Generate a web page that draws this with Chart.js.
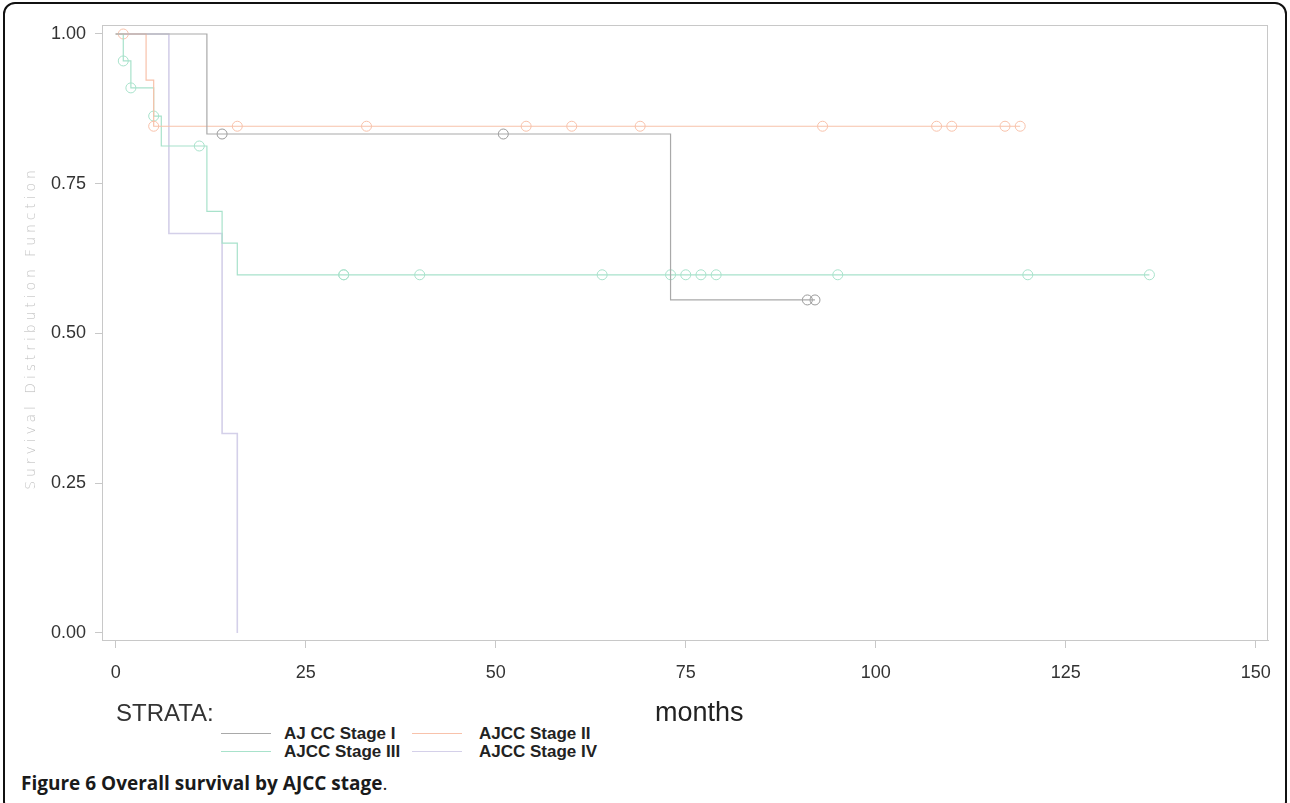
<!DOCTYPE html>
<html>
<head>
<meta charset="utf-8">
<script src="https://cdn.jsdelivr.net/npm/chart.js@4.4.1/dist/chart.umd.min.js"></script>
<style>
body{margin:0;background:#fff;}
#wrap{position:relative;width:1290px;height:803px;overflow:hidden;background:#fff;font-family:"Liberation Sans",Arial,sans-serif;}
#border{position:absolute;left:3px;top:2px;width:1284px;height:812px;border:2px solid #111;border-radius:12px;box-sizing:border-box;}
#myChart{position:absolute;left:0;top:0;}
#ytitle{position:absolute;left:-170px;top:318px;width:400px;height:20px;line-height:20px;text-align:center;transform:rotate(-90deg);
  font-family:"DejaVu Sans",sans-serif;font-weight:200;font-size:14px;letter-spacing:3.9px;color:#c4c4c4;}
#xtitle{position:absolute;left:655px;top:699px;font-size:27px;line-height:27px;color:#222;}
#strata{position:absolute;left:116px;top:701px;font-size:24px;line-height:24px;color:#333;}
.lg-line{position:absolute;height:0;width:50px;border-top:1px solid #aaa;}
.lg-text{position:absolute;font-size:17px;font-weight:bold;line-height:18px;color:#222;white-space:nowrap;}
#caption{position:absolute;left:21px;top:770px;font-family:"Open Sans",sans-serif;font-size:19px;color:#1a1a1a;white-space:nowrap;}
</style>
</head>
<body>
<div id="wrap">
  <canvas id="myChart" width="1290" height="700"></canvas>
  <div id="ytitle">Survival Distribution Function</div>
  <div id="xtitle">months</div>
  <div id="strata">STRATA:</div>
  <div id="legend"></div>
  <div id="caption"><b>Figure 6 Overall survival by AJCC stage</b>.</div>
  <div id="border"></div>
</div>
<script>
// tick labels
var xTicks = [0, 25, 50, 75, 100, 125, 150];
var yTicks = [0, 0.25, 0.5, 0.75, 1];

var stageNames = ['AJ CC Stage I', 'AJCC Stage II', 'AJCC Stage III', 'AJCC Stage IV'];
var stageColors = ['#a9a9a9', '#f8c2ab', '#a8e2cb', '#d4d0e9'];

// KM step points (month, survival)
var stage1Months = [0, 12, 73, 92];
var stage1Surv = [1, 0.833, 0.556, 0.556];
var stage2Months = [0, 4, 5, 119];
var stage2Surv = [1, 0.923, 0.846, 0.846];
var stage3Months = [0, 1, 2, 5, 6, 12, 14, 16, 136];
var stage3Surv = [1, 0.955, 0.91, 0.863, 0.813, 0.704, 0.651, 0.598, 0.598];
var stage4Months = [0, 7, 14, 16];
var stage4Surv = [1, 0.667, 0.333, 0];

// censored observations
var cens1Months = [14, 51, 91, 92];
var cens1Surv = [0.833, 0.833, 0.556, 0.556];
var cens2Months = [1, 5, 16, 33, 54, 60, 69, 93, 108, 110, 117, 119];
var cens2Surv = [1, 0.846, 0.846, 0.846, 0.846, 0.846, 0.846, 0.846, 0.846, 0.846, 0.846, 0.846];
var cens3Months = [1, 2, 5, 11, 30, 30, 40, 64, 73, 75, 77, 79, 95, 120, 136];
var cens3Surv = [0.955, 0.91, 0.863, 0.813, 0.598, 0.598, 0.598, 0.598, 0.598, 0.598, 0.598, 0.598, 0.598, 0.598, 0.598];

function pts(xs, ys){
    return xs.map(function(x, i){ return {x: x, y: ys[i]}; });
}

var curves = [pts(stage1Months, stage1Surv), pts(stage2Months, stage2Surv), pts(stage3Months, stage3Surv), pts(stage4Months, stage4Surv)];
var censored = [pts(cens1Months, cens1Surv), pts(cens2Months, cens2Surv), pts(cens3Months, cens3Surv)];

var datasets = [];
curves.forEach(function(d, i){
    datasets.push({
        label: stageNames[i],
        data: d,
        stepped: 'before',   // hold level, then drop at the event time
        borderColor: stageColors[i],
        borderWidth: i == 3 ? 1.6 : 1.2,
        pointRadius: 0,
        fill: false
    });
});
censored.forEach(function(d, i){
    datasets.push({
        label: stageNames[i] + ' censored',
        data: d,
        showLine: false,
        pointStyle: 'circle',
        pointRadius: 5,
        pointBorderWidth: 1,
        pointBorderColor: i == 0 ? '#9a9a9a' : stageColors[i],
        pointBackgroundColor: 'rgba(0,0,0,0)'
    });
});

var frame = {
    id: 'frame',
    beforeDatasetsDraw: function(chart){
        var a = chart.chartArea, c = chart.ctx;
        c.save();
        c.strokeStyle = '#c8c8c8';
        c.lineWidth = 1;
        c.strokeRect(a.left + 0.5, a.top + 0.5, a.right - a.left - 1, a.bottom - a.top);
        c.restore();
    }
};

const ctx = document.getElementById('myChart').getContext('2d');
const myChart = new Chart(ctx, {
    type: 'line',
    data: { datasets: datasets },
    plugins: [frame],
    options: {
        responsive: false,
        animation: false,
        layout: { padding: { top: 25, right: 22, left: 0, bottom: 0 } },
        plugins: { legend: { display: false }, tooltip: { enabled: false } },
        scales: {
            x: {
                type: 'linear',
                min: -1.8,
                max: 151.6,
                afterBuildTicks: function(s){ s.ticks = xTicks.map(function(v){ return {value: v}; }); },
                afterFit: function(s){ s.height = 60; },
                grid: { drawOnChartArea: false, color: '#c8c8c8', tickLength: 8 },
                border: { color: '#c8c8c8' },
                ticks: { color: '#333', font: { family: 'Liberation Sans', size: 18 }, padding: 14, maxRotation: 0 }
            },
            y: {
                min: -0.0117,
                max: 1.015,
                afterBuildTicks: function(s){ s.ticks = yTicks.map(function(v){ return {value: v}; }); },
                afterFit: function(s){ s.width = 102; },
                grid: { drawOnChartArea: false, color: '#c8c8c8', tickLength: 7 },
                border: { color: '#c8c8c8' },
                ticks: {
                    color: '#333', font: { family: 'Liberation Sans', size: 18 }, padding: 9,
                    callback: function(v){ return v.toFixed(2); }
                }
            }
        }
    }
});

// SAS-style legend under the plot
var legend = document.getElementById('legend');
var lgX = [[221, 284], [412, 479]];
var lgY = [733, 751];
stageNames.forEach(function(name, i){
    var col = i % 2, row = Math.floor(i / 2);
    var ln = document.createElement('div');
    ln.className = 'lg-line';
    ln.style.left = lgX[col][0] + 'px';
    ln.style.top = lgY[row] + 'px';
    ln.style.borderTopColor = stageColors[i];
    legend.appendChild(ln);
    var tx = document.createElement('div');
    tx.className = 'lg-text';
    tx.style.left = lgX[col][1] + 'px';
    tx.style.top = (lgY[row] - 8) + 'px';
    tx.textContent = name;
    legend.appendChild(tx);
});
</script>
</body>
</html>
